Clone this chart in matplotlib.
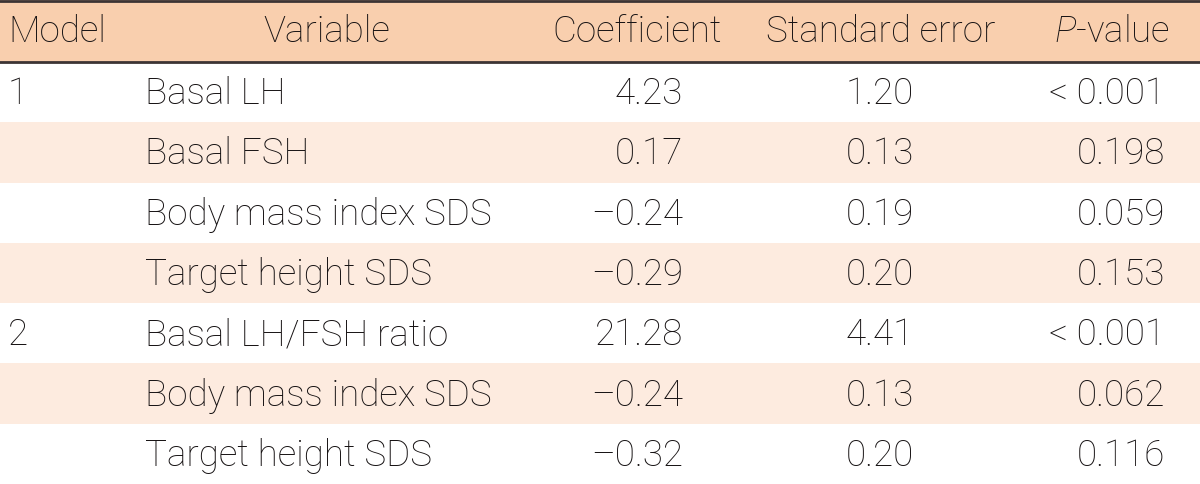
import matplotlib.pyplot as plt
from matplotlib.patches import Rectangle

# table contents
headers = ["Model", "Variable", "Coefficient", "Standard error", "$\\it{P}$-value"]
models = ["1", "", "", "", "2", "", ""]
variables = ["Basal LH", "Basal FSH", "Body mass index SDS", "Target height SDS",
             "Basal LH/FSH ratio", "Body mass index SDS", "Target height SDS"]
coefs = ["4.23", "0.17", "\u20130.24", "\u20130.29", "21.28", "\u20130.24", "\u20130.32"]
std_errs = ["1.20", "0.13", "0.19", "0.20", "4.41", "0.13", "0.20"]
p_values = ["< 0.001", "0.198", "0.059", "0.153", "< 0.001", "0.062", "0.116"]

W, H = 1200, 484
header_h = 62
row_h = (H - header_h) / len(variables)
txt = "#161213"
fs = 26.5

plt.rcParams['font.family'] = ['Roboto', 'DejaVu Sans']
plt.rcParams['font.weight'] = 'light'
plt.rcParams['mathtext.fontset'] = 'custom'
plt.rcParams['mathtext.it'] = 'Roboto:italic:light'
plt.rcParams['mathtext.rm'] = 'Roboto:light'

fig = plt.figure(figsize=(12, 4.84), dpi=100)
ax = fig.add_axes([0, 0, 1, 1])
ax.set_xlim(0, W)
ax.set_ylim(H, 0)
ax.axis("off")

# header band and lines
ax.add_patch(Rectangle((0, 0), W, header_h, color="#f9cfae", lw=0))
ax.axhline(1, color="#3c3434", lw=2)
ax.axhline(header_h, color="#3c3434", lw=2)

# striped rows
for i in range(len(variables)):
    if i % 2 == 1:
        y0 = header_h + i * row_h
        ax.add_patch(Rectangle((0, y0), W, row_h, color="#fdebdf", lw=0))

hy = header_h / 2 + 1
ax.text(8, hy, headers[0], ha="left", va="center", fontsize=fs, color=txt)
ax.text(327, hy, headers[1], ha="center", va="center", fontsize=fs, color=txt)
ax.text(722, hy, headers[2], ha="right", va="center", fontsize=fs, color=txt)
ax.text(881, hy, headers[3], ha="center", va="center", fontsize=fs, color=txt)
ax.text(1170, hy, headers[4], ha="right", va="center", fontsize=fs, color=txt)

for i in range(len(variables)):
    y = header_h + (i + 0.5) * row_h + 2
    ax.text(8, y, models[i], ha="left", va="center", fontsize=fs, color=txt)
    ax.text(145, y, variables[i], ha="left", va="center", fontsize=fs, color=txt)
    ax.text(683, y, coefs[i], ha="right", va="center", fontsize=fs, color=txt)
    ax.text(880, y, std_errs[i], ha="center", va="center", fontsize=fs, color=txt)
    ax.text(1165, y, p_values[i], ha="right", va="center", fontsize=fs, color=txt)

fig.savefig("out.png", dpi=100)
